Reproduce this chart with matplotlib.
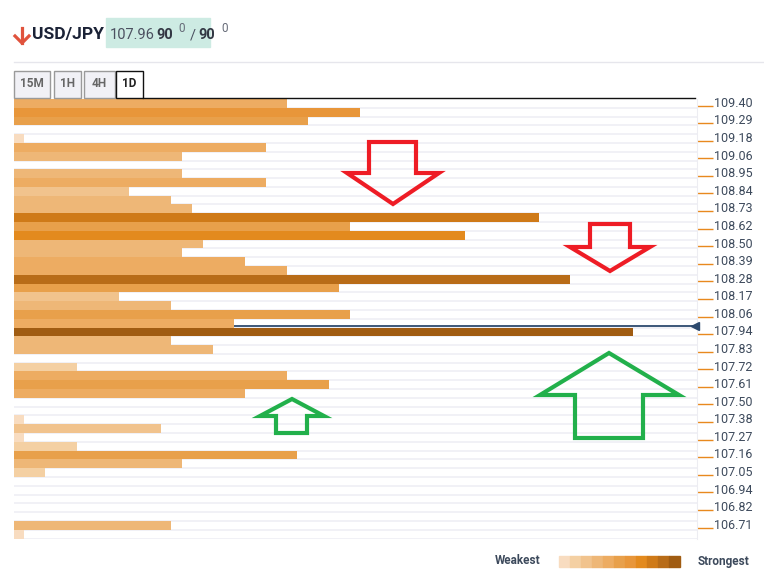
import matplotlib.pyplot as plt
from matplotlib.patches import Rectangle, Polygon
from matplotlib.lines import Line2D
import numpy as np

plt.rcParams['font.family'] = ['Roboto', 'DejaVu Sans']

# confluence strength for each price row, top (109.40) to bottom (106.65)
strength = [26, 33, 28, 0, 1, 24, 16, 0, 16, 24, 11, 15, 17, 50, 32, 43, 18, 16, 22, 26,
            53, 31, 10, 15, 32, 21, 59, 15, 19, 0, 6, 26, 30, 22, 0, 0, 1, 14, 1, 6,
            27, 16, 3, 0, 0, 0, 0, 0, 15, 1]
# labels shown on every second row
tick_labels = ["109.40", "109.29", "109.18", "109.06", "108.95", "108.84", "108.73", "108.62",
               "108.50", "108.39", "108.28", "108.17", "108.06", "107.94", "107.83", "107.72",
               "107.61", "107.50", "107.38", "107.27", "107.16", "107.05", "106.94", "106.82",
               "106.71"]
price_row = 25.3  # current price marker (107.96)
palette = ["#F8DCC0", "#F4D0A3", "#F1C38D", "#EEB777", "#EDAC62", "#E8A04B",
           "#E8963A", "#E38A1E", "#CF7A18", "#B86C18", "#A05C12"]
level_edges = [2, 8, 15, 20, 27, 33, 40, 48, 52, 56]

W, H = 764, 573
fig = plt.figure(figsize=(W / 100, H / 100), dpi=100)

def P(x, y):
    # pixel position (from top-left) -> figure fraction
    return (x / W, 1 - y / H)

x0, x1, y0, y1 = 14, 697, 99, 538.5
ax = fig.add_axes([x0 / W, 1 - y1 / H, (x1 - x0) / W, (y1 - y0) / H])
rows = np.arange(len(strength))
cols = [palette[i] for i in np.digitize(strength, level_edges)]
ax.barh(rows, strength, height=1.0, color=cols, zorder=3)
ax.set_xlim(0, (x1 - x0) / 10.5)
ax.set_ylim(len(strength) - 0.5, -0.5)
for b in np.arange(-0.5, len(strength), 1.0):
    ax.axhline(b + 1, color="#EFEFF5", lw=1.2, zorder=1)
ax.axhline(price_row, color="#2D4A6E", lw=1.3, zorder=2)
ax.plot([ax.get_xlim()[1] - 0.2], [price_row], marker="<", color="#2D4A6E", ms=6,
        clip_on=False, zorder=5)
for s in ["top", "left", "bottom"]:
    ax.spines[s].set_visible(False)
ax.spines["right"].set_color("#EDEDF2")
ax.set_xticks([])
ax.yaxis.tick_right()
ax.set_yticks(rows[::2] + 0.25)
ax.set_yticklabels([])
ax.tick_params(axis="y", length=11.5, width=1, color="#E8891E")
for i, lab in enumerate(tick_labels):
    ax.text(1.0 + 17 / (x1 - x0), i * 2, lab, transform=ax.get_yaxis_transform(),
            ha="left", va="center", fontsize=9, color="#3D4A5C")

# arrows
red_1 = [(369, 142), (416, 142), (416, 173), (439, 173), (393, 204), (347, 173), (369, 173)]
red_2 = [(590, 224), (630, 224), (630, 247), (650, 247), (610, 271), (570, 247), (590, 247)]
green_1 = [(609, 353), (679, 395), (643, 395), (643, 438), (575, 438), (575, 395), (540, 395)]
green_2 = [(292, 399), (324, 416), (307, 416), (307, 433), (276, 433), (276, 416), (260, 416)]
for pts, c in [(red_1, "#EE1C25"), (red_2, "#EE1C25"), (green_1, "#22B04B"), (green_2, "#22B04B")]:
    fig.patches.append(Polygon([P(*p) for p in pts], closed=True, fill=False, edgecolor=c,
                               lw=3, joinstyle="miter", transform=fig.transFigure, zorder=10))

# header
fig.add_artist(Line2D([22 / W, 22 / W], [P(0, 28)[1], P(0, 43)[1]], color="#E0533D", lw=2.3))
fig.add_artist(Line2D([P(15, 0)[0], P(22, 0)[0], P(29, 0)[0]],
                      [P(0, 36)[1], P(0, 43)[1], P(0, 36)[1]], color="#E0533D", lw=2.3))
fig.text(*P(32, 35), "USD/JPY", fontsize=12.5, fontweight="bold", color="#1B2236", va="center")
fig.patches.append(Rectangle(P(106, 47), 104 / W, 29 / H, color="#CDEBE3",
                             transform=fig.transFigure, zorder=0))
fig.text(*P(110, 35), "107.96", fontsize=10.5, color="#4B5060", va="center")
fig.text(*P(156, 35), "90", fontsize=10.5, fontweight="bold", color="#333844", va="center")
fig.text(*P(178, 28), "0", fontsize=8.5, color="#666B78", va="center")
fig.text(*P(190, 35), "/", fontsize=10.5, color="#4B5060", va="center")
fig.text(*P(198, 35), "90", fontsize=10.5, fontweight="bold", color="#333844", va="center")
fig.text(*P(221, 28), "0", fontsize=8.5, color="#666B78", va="center")
fig.add_artist(Line2D([14 / W, 1], [P(0, 62)[1]] * 2, color="#E6E6EC", lw=1))

# timeframe tabs
tabs = ["15M", "1H", "4H", "1D"]
tab_x = [(14, 50), (54, 81), (84, 115), (116, 143)]
for name, (a, b) in zip(tabs, tab_x):
    active = name == "1D"
    fig.patches.append(Rectangle(P(a, 98), (b - a) / W, 27 / H,
                                 facecolor="white" if active else "#F1F1F6",
                                 edgecolor="#111111" if active else "#9A9A9A", lw=1,
                                 transform=fig.transFigure))
    fig.text(*P((a + b) / 2, 84), name, fontsize=8.5, fontweight="bold",
             color="#222222" if active else "#666666", ha="center", va="center")
fig.add_artist(Line2D([P(143, 0)[0], P(695, 0)[0]], [P(0, 98)[1]] * 2, color="#111111", lw=1))

# legend
fig.text(*P(495, 561), "Weakest", fontsize=8.5, fontweight="bold", color="#3D4A5C", va="center")
for i, c in enumerate(palette):
    fig.patches.append(Rectangle(P(559 + i * 11, 567), 11 / W, 11 / H, color=c,
                                 transform=fig.transFigure))
fig.text(*P(698, 561), "Strongest", fontsize=8.5, fontweight="bold", color="#3D4A5C", va="center")

plt.savefig("out.png", dpi=100)
